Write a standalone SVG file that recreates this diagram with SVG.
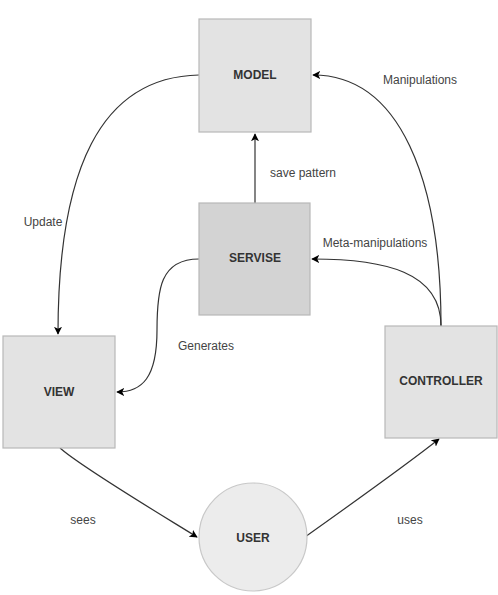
<svg xmlns="http://www.w3.org/2000/svg" width="498" height="595" viewBox="0 0 498 595">
<style>
.box{fill:#e3e3e3;stroke:#b8b8b8;stroke-width:1.2}
.dark{fill:#d3d3d3}
.nt{font-family:"Liberation Sans",Arial,sans-serif;font-size:12px;font-weight:bold;fill:#333;text-anchor:middle;dominant-baseline:middle}
.lt{font-family:"Liberation Sans",Arial,sans-serif;font-size:12px;fill:#444;text-anchor:middle;dominant-baseline:middle}
.edge{fill:none;stroke:#333;stroke-width:1.2;marker-end:url(#arr)}
</style>
<defs>
<marker id="arr" viewBox="0 0 10 10" refX="9" refY="5" markerWidth="8" markerHeight="8" markerUnits="userSpaceOnUse" orient="auto">
<path d="M0,0 L10,5 L0,10 L2.5,5 Z" fill="#000"/>
</marker>
</defs>
<rect width="498" height="595" fill="#fff"/>
<g id="connectors">
<path class="edge" d="M199 75 C 100 77, 58 170, 58 334"/>
<path class="edge" d="M199 259 C 160 259, 157 290, 157 330 C 157 378, 142 392, 117 392"/>
<path class="edge" d="M255 203 L 255 134"/>
<path class="edge" d="M441 326 C 441 180, 400 75, 313 75"/>
<path class="edge" d="M441 326 C 441 272, 385 259, 312 259"/>
<path class="edge" d="M60 448 C 80 466, 150 508, 197 537"/>
<path class="edge" d="M305 537 C 350 505, 410 462, 439 439"/>
<text class="lt" x="43" y="223">Update</text>
<text class="lt" x="206" y="347">Generates</text>
<text class="lt" x="303" y="174">save pattern</text>
<text class="lt" x="420" y="81">Manipulations</text>
<text class="lt" x="375" y="244">Meta-manipulations</text>
<text class="lt" x="83" y="521">sees</text>
<text class="lt" x="410" y="521">uses</text>
</g>
<g id="model"><rect class="box" x="199" y="19" width="112" height="113"/><text class="nt" x="255" y="76">MODEL</text></g>
<g id="servise"><rect class="box dark" x="199" y="203" width="111" height="112"/><text class="nt" x="255" y="259">SERVISE</text></g>
<g id="view"><rect class="box" x="3" y="336" width="112" height="112"/><text class="nt" x="59" y="393">VIEW</text></g>
<g id="controller"><rect class="box" x="385" y="326" width="112" height="112"/><text class="nt" x="441" y="382">CONTROLLER</text></g>
<g id="user"><circle cx="253" cy="537" r="54" style="fill:#ececec;stroke:#c8c8c8;stroke-width:1.2"/><text class="nt" x="253" y="539">USER</text></g>
</svg>
